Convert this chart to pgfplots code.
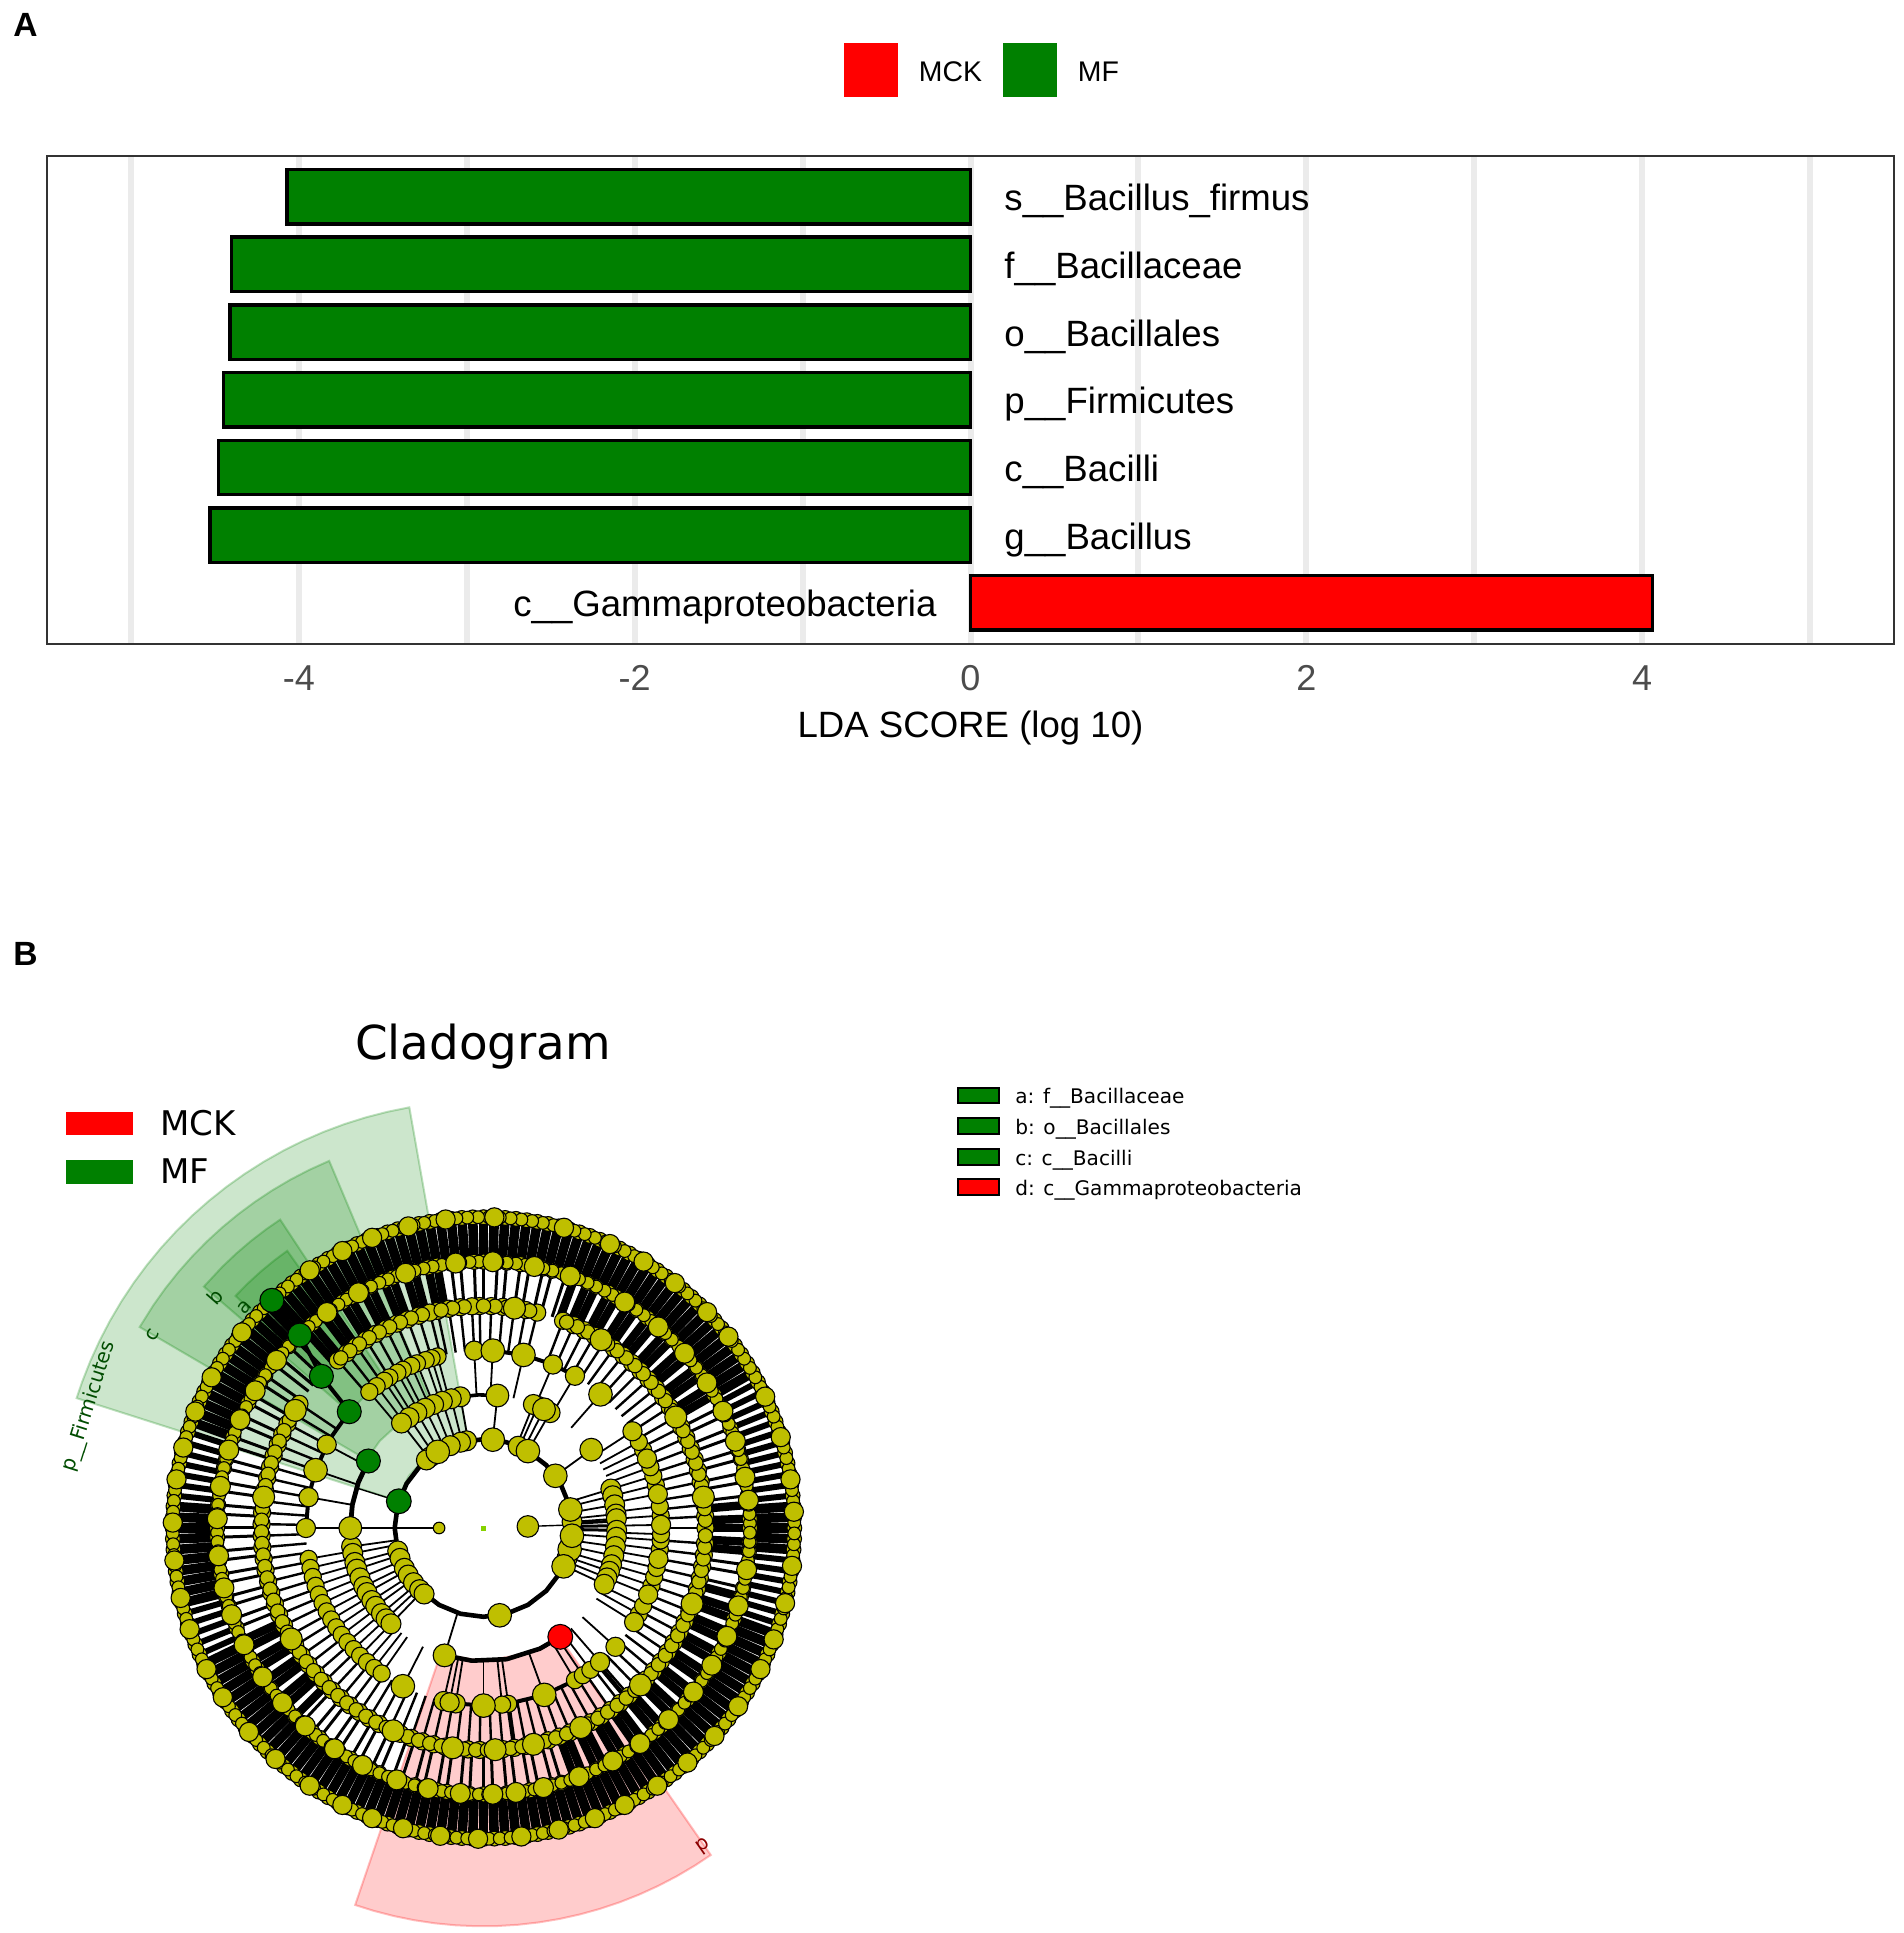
\documentclass[border=0pt]{standalone}
\usepackage{pgfplots}
\usepackage{pgfplotstable}
\usepackage{fontspec}
\setmainfont{Liberation Sans}
\newfontfamily\dv{DejaVu Sans}
\pgfplotsset{compat=1.18}
\definecolor{yel}{rgb}{.75,.75,0}
\definecolor{dgreen}{rgb}{0,.5,0}
\newcommand\T[2]{\pgfplotstableread[row sep=\\]{a\\#1\\}#2}
% node angles (degrees) per ring of the cladogram
\T{180\\2}\Lone
\T{36\\84\\280.5\\60\\121\\-14\\-25.6\\-5\\12}\LtwoA
\T{67\\101\\105\\112\\127\\130\\4\\-9\\195\\200\\207\\212\\218\\224\\228\\-20}\LtwoB
\T{36\\84\\253\\63\\180}\LthreeA
\T{100\\104\\108\\112\\116\\120\\124\\128\\60\\66\\68\\17\\14\\10\\6\\4\\-1\\-4\\-8\\-12\\-16\\-19\\-22\\-25\\188\\191\\195\\198\\202\\206\\209\\213\\216\\220\\223\\226}\LthreeB
\T{87\\77\\161\\243\\270\\290\\48.8}\LfourA
\T{93\\67\\59\\152\\180\\170\\257\\261\\259\\311\\318\\328\\338\\350\\1\\11\\23\\33}\LfourB
\T{105\\107\\109\\112\\114\\117\\119\\122\\124\\127\\130\\190\\193\\196\\199\\202\\205\\208\\211\\214\\217\\220\\223\\226\\229\\232\\235\\278\\276\\301\\304\\307\\331\\334\\341\\344\\347\\353\\356\\358\\4\\7\\14\\17\\20\\26\\29}\LfourC
\T{0\\3\\6\\9\\12\\15\\18\\21\\24\\27\\30\\33\\36\\39\\42\\45\\48\\51\\54\\57\\60\\63\\66\\69\\76\\79\\82\\85\\88\\91\\93\\96\\99\\102\\104\\107\\110\\113\\116\\119\\122\\125\\128\\131\\146\\149\\152\\155\\158\\161\\164\\167\\170\\173\\176\\179\\182\\185\\188\\191\\194\\197\\200\\203\\206\\209\\212\\215\\218\\221\\224\\227\\230\\233\\236\\239\\242\\245\\248\\251\\254\\257\\260\\263\\266\\269\\272\\275\\278\\281\\284\\287\\290\\293\\296\\299\\302\\305\\308\\311\\314\\317\\320\\323\\326\\329\\332\\335\\338\\341\\344\\347\\350\\353\\356}\Lfive
\T{2\\5\\8\\11\\14\\17\\20\\23\\26\\29\\32\\35\\38\\41\\44\\47\\50\\53\\56\\59\\62\\65\\68\\78\\81\\84\\87\\90\\95\\98\\101\\106\\109\\112\\115\\118\\121\\124\\127\\130\\148\\151\\154\\157\\160\\163\\166\\169\\172\\175\\178\\181\\184\\187\\190\\193\\196\\199\\202\\205\\208\\211\\214\\217\\220\\223\\226\\229\\232\\235\\238\\241\\244\\247\\250\\253\\256\\259\\262\\265\\268\\271\\274\\277\\280\\283\\286\\289\\292\\295\\298\\301\\304\\307\\310\\313\\316\\319\\322\\325\\328\\331\\334\\337\\340\\343\\346\\349\\352\\355\\358}\LfiveO
\T{82\\148\\172\\210\\246\\262\\273\\283\\296\\315\\340\\8\\30\\58}\LfiveB
\T{30\\32\\35\\37\\40\\42\\45\\47\\50\\52\\55\\57\\60\\62\\65\\67\\70\\100\\102\\105\\107\\110\\112\\115\\117\\120\\122\\125\\127\\130\\132\\205\\207\\210\\212\\215\\217\\220\\222\\225\\290\\292\\295\\297\\300\\302\\305\\307\\310\\312\\315\\317\\320\\322\\325\\327\\330\\332\\335\\337\\340\\342\\345\\355\\357\\0\\2\\5}\LsixD
\T{7\\10\\12\\15\\17\\20\\22\\25\\27\\72\\75\\77\\80\\82\\85\\87\\90\\92\\95\\97\\135\\137\\140\\142\\145\\147\\150\\152\\155\\157\\160\\162\\165\\167\\170\\172\\175\\177\\180\\182\\185\\187\\190\\192\\195\\197\\200\\202\\227\\230\\232\\235\\237\\240\\242\\245\\247\\250\\252\\255\\257\\260\\262\\265\\267\\270\\272\\275\\277\\280\\282\\285\\287\\347\\350\\352}\LsixS
\T{11\\26\\41\\58\\79\\96\\118\\149\\163\\178\\193\\206\\221\\243\\258\\272\\283\\299\\314\\329\\343\\6\\19\\33\\49\\71\\88\\107\\126\\141\\156\\171\\186\\199\\214\\228\\236\\251\\265\\277\\291\\306\\322\\336\\351}\LsixB
\T{30\\32\\34\\36\\38\\40\\42\\44\\46\\48\\50\\52\\54\\56\\58\\60\\62\\64\\66\\68\\70\\72\\74\\76\\78\\80\\82\\84\\86\\88\\90\\92\\94\\96\\98\\100\\102\\104\\106\\108\\110\\112\\114\\116\\118\\120\\122\\124\\126\\128\\130\\132\\134\\136\\138\\140\\142\\144\\146\\148\\150\\152\\154\\156\\158\\160\\176\\178\\180\\182\\184\\186\\188\\190\\192\\194\\206\\208\\210\\212\\214\\216\\218\\220\\222\\224\\226\\228\\230\\232\\234\\236\\238\\240\\242\\244\\246\\248\\250\\252\\254\\256\\258\\260\\262\\264\\266\\268\\270\\272\\274\\276\\278\\280\\282\\284\\286\\288\\290\\292\\294\\296\\298\\300\\302\\304\\306\\308\\310\\312\\314\\316\\318\\320\\322\\324\\326\\328\\330\\332\\334\\336\\338\\340\\356\\358\\0\\2\\4}\LsevenD
\T{162\\164\\166\\168\\170\\172\\174\\196\\198\\200\\202\\204\\342\\344\\346\\348\\350\\352\\354\\6\\8\\10\\12\\14\\16\\18\\20\\22\\24\\26\\28}\LsevenS
\T{3\\17\\38\\52\\66\\88\\97\\111\\124\\141\\158\\171\\186\\199\\213\\228\\236\\249\\262\\277\\291\\304\\318\\333\\346\\9\\25\\44\\59\\75\\104\\117\\151\\165\\179\\193\\207\\221\\243\\255\\269\\284\\297\\311\\325\\339\\353}\LsevenB
\T{1\\3\\5\\7\\9\\11\\13\\15\\17\\19\\21\\23\\25\\27\\29\\31\\33\\35\\37\\39\\41\\43\\45\\47\\49\\51\\53\\55\\57\\59\\61\\63\\65\\67\\69\\71\\73\\75\\77\\79\\81\\83\\85\\87\\89\\91\\93\\95\\97\\99\\101\\103\\105\\107\\109\\111\\113\\115\\117\\119\\121\\123\\125\\127\\129\\131\\133\\135\\137\\139\\141\\143\\145\\147\\149\\151\\153\\155\\157\\159\\161\\163\\165\\167\\169\\171\\173\\175\\177\\179\\181\\183\\185\\187\\189\\191\\193\\195\\197\\199\\201\\203\\205\\207\\209\\211\\213\\215\\217\\219\\221\\223\\225\\227\\229\\231\\233\\235\\237\\239\\241\\243\\245\\247\\249\\251\\253\\255\\257\\259\\261\\263\\265\\267\\269\\271\\273\\275\\277\\279\\281\\283\\285\\287\\289\\291\\293\\295\\297\\299\\301\\303\\305\\307\\309\\311\\313\\315\\317\\319\\321\\323\\325\\327\\329\\331\\333\\335\\337\\339\\341\\343\\345\\347\\349\\351\\353\\355\\357\\359}\Lodd
% spokes between two rings, arcs on one ring, dots on one ring
\newcommand\spk[4]{\addplot[forget plot,black,line width=#3,quiver={u={(#2-#1)*cos(\thisrow{a})},v={(#2-#1)*sin(\thisrow{a})}}] table[row sep=\\,x index=0,y index=0,x expr={#1*cos(\thisrow{a})},y expr={#1*sin(\thisrow{a})}] {#4};}
\newcommand\arcp[3]{\addplot[forget plot,black,line width=#2,no marks] table[row sep=\\,x index=0,y index=0,x expr={#1*cos(\thisrow{a})},y expr={#1*sin(\thisrow{a})}] {a\\#3\\};}
\newcommand\nd[4][yel]{\addplot[forget plot,only marks,mark=*,mark size=#3,mark options={fill=#1,draw=black,line width=.55pt}] table[row sep=\\,x index=0,y index=0,x expr={#2*cos(\thisrow{a})},y expr={#2*sin(\thisrow{a})}] {#4};}
\begin{document}
\begin{tikzpicture}
\begin{scope}[x=.5pt,y=-.5pt,yshift=966.5pt]
\path[use as bounding box] (0,0) rectangle (1904,1933);
\end{scope}
% ---------- panel A
\begin{axis}[at={(23.5pt,644.7pt)},anchor=south west,scale only axis,width=923.5pt,height=243.8pt,
  xmin=-5.5,xmax=5.5,ymin=-.6,ymax=6.6,ytick=\empty,
  xtick={-4,-2,0,2,4},xticklabels={-4,-2,0,2,4},minor xtick={-5,-3,-1,1,3,5},
  xmajorgrids,xminorgrids,
  grid style={draw=black!8,line width=3pt},minor grid style={draw=black!8,line width=3pt},
  major tick length=0pt,minor tick length=0pt,
  axis line style={draw=black!80,line width=1pt},
  xticklabel style={font=\fontsize{18}{20}\selectfont,text=black!70,anchor=base,yshift=-23.4pt},
  xlabel={LDA SCORE (log 10)},
  xlabel style={font=\fontsize{18.3}{20}\selectfont,at={(axis description cs:.5,0)},anchor=base,yshift=-46.9pt},
  clip=false]
\addplot[xbar,bar shift=0pt,bar width=27.2pt,fill=dgreen,draw=black,line width=1.7pt] coordinates {(-4.07,6) (-4.40,5) (-4.41,4) (-4.45,3) (-4.48,2) (-4.53,1)};
\addplot[xbar,bar shift=0pt,bar width=27.2pt,fill=red,draw=black,line width=1.7pt] coordinates {(4.06,0)};
\tikzset{lab/.style={font=\fontsize{18.3}{20}\selectfont,anchor=base west,inner sep=0pt,yshift=-7pt}}
\node[lab] at (axis cs:.2,6) {s\_\_Bacillus\_firmus};
\node[lab] at (axis cs:.2,5) {f\_\_Bacillaceae};
\node[lab] at (axis cs:.2,4) {o\_\_Bacillales};
\node[lab] at (axis cs:.2,3) {p\_\_Firmicutes};
\node[lab] at (axis cs:.2,2) {c\_\_Bacilli};
\node[lab] at (axis cs:.2,1) {g\_\_Bacillus};
\node[lab,anchor=base east] at (axis cs:-.2,0) {c\_\_Gammaproteobacteria};
\end{axis}
% ---------- panel B
\begin{axis}[at={(19.75pt,2.7pt)},anchor=south west,x=22.2pt,y=22.2pt,hide axis,clip=false,
  xmin=-10,xmax=10,ymin=-9,ymax=10]
\addplot[data cs=polar,forget plot,no marks,fill=dgreen,fill opacity=.2,draw=dgreen,draw opacity=.25,line width=1pt] coordinates {(100,9.62) (103,9.62) (106,9.62) (109,9.62) (112,9.62) (115,9.62) (118,9.62) (121,9.62) (124,9.62) (127,9.62) (130,9.62) (133,9.62) (136,9.62) (139,9.62) (142,9.62) (145,9.62) (148,9.62) (151,9.62) (154,9.62) (157,9.62) (160,9.62) (162.3,9.62) (162.3,2.05) (145,2.05) (130,2.05) (115,2.05) (100,2.05)} -- cycle;
\addplot[data cs=polar,forget plot,no marks,fill=dgreen,fill opacity=.2,draw=dgreen,draw opacity=.25,line width=1pt] coordinates {(112.8,8.97) (116,8.97) (119,8.97) (122,8.97) (125,8.97) (128,8.97) (131,8.97) (134,8.97) (137,8.97) (140,8.97) (143,8.97) (146,8.97) (149.7,8.97) (149.7,3.05) (140,3.05) (125,3.05) (112.8,3.05)} -- cycle;
\addplot[data cs=polar,forget plot,no marks,fill=dgreen,fill opacity=.2,draw=dgreen,draw opacity=.25,line width=1pt] coordinates {(123.4,8.32) (126,8.32) (129,8.32) (132,8.32) (135,8.32) (139.2,8.32) (139.2,4) (131,4) (123.4,4)} -- cycle;
\addplot[data cs=polar,forget plot,no marks,fill=dgreen,fill opacity=.2,draw=dgreen,draw opacity=.25,line width=1pt] coordinates {(125.3,7.65) (128,7.65) (131,7.65) (134,7.65) (136.9,7.65) (136.9,5) (131,5) (125.3,5)} -- cycle;
\addplot[data cs=polar,forget plot,no marks,fill=red,fill opacity=.2,draw=red,draw opacity=.25,line width=1pt] coordinates {(251.2,8.97) (254,8.97) (257,8.97) (260,8.97) (263,8.97) (266,8.97) (269,8.97) (272,8.97) (275,8.97) (278,8.97) (281,8.97) (284,8.97) (287,8.97) (290,8.97) (293,8.97) (296,8.97) (299,8.97) (302,8.97) (304.8,8.97) (304.8,3) (290,3) (270,3) (251.2,3)} -- cycle;
% spokes
\spk{1}{2}{.7pt}{\Lone}
\spk{2}{3}{.9pt}{\LthreeA}
\spk{2}{3}{.9pt}{\LthreeB}
\spk{2}{3}{.7pt}{a\\162.5\\}
\spk{2}{3}{1.5pt}{a\\-1\\1\\3\\}
\spk{3}{4}{.9pt}{\LfourA}
\spk{3}{4}{.9pt}{\LfourB}
\spk{3}{4}{.9pt}{\LfourC}
\spk{4}{5}{1.2pt}{\Lfive}
\spk{4}{5}{2.2pt}{a\\278\\310\\}
\spk{5}{6}{4.2pt}{\LsixD}
\spk{5}{6}{1.5pt}{\LsixS}
\spk{6}{7}{4.8pt}{\LsevenD}
\spk{6}{7}{3pt}{\LsevenS}
% arcs
\arcp{2}{2.3pt}{0\\15\\30\\45\\60\\75\\90\\105\\120\\135\\150\\165\\180\\195\\210\\225\\240\\255\\270\\285\\300\\315\\330\\345\\360}
\arcp{3}{2.4pt}{149.8\\160\\170\\180\\190}
\arcp{3}{2.3pt}{253\\265\\280\\295\\305}
\arcp{3}{1.8pt}{84\\92\\100}
\arcp{4}{2pt}{139\\150\\161\\170\\180}
\arcp{4}{2pt}{261\\270}
\arcp{4}{2pt}{278\\290\\301}
\arcp{4}{2pt}{59\\67\\77\\87\\93}
\addplot[data cs=polar,forget plot,black,line width=2pt,no marks] coordinates {(139,4) (136.9,5) (133.6,6) (132.9,7)};
% dots
\addplot[forget plot,only marks,mark=square*,mark size=1pt,mark options={fill=yel!70!green,draw=yel!70!green}] coordinates {(0,0)};
\nd{7}{3.7pt}{\LsevenD}
\nd{7}{3.7pt}{\LsevenS}
\nd{7}{3.2pt}{\Lodd}
\nd{7}{4.8pt}{\LsevenB}
\nd{6}{3.8pt}{\LsixD}
\nd{6}{3.8pt}{\LsixS}
\nd{6}{3.2pt}{\Lodd}
\nd{6}{5pt}{\LsixB}
\nd{5}{4.3pt}{\Lfive}
\nd{5}{3.6pt}{\LfiveO}
\nd{5}{5.5pt}{\LfiveB}
\nd{4}{4.3pt}{\LfourC}
\nd{4}{4.8pt}{\LfourB}
\nd{4}{5.9pt}{\LfourA}
\nd{3}{5pt}{\LthreeB}
\nd{3}{5.7pt}{\LthreeA}
\nd{2}{5pt}{\LtwoB}
\nd{2}{5.9pt}{\LtwoA}
\nd{1}{2.9pt}{a\\180\\}
\nd{1}{5.4pt}{a\\2\\}
\nd[dgreen]{2}{6.2pt}{a\\162.5\\}
\nd[dgreen]{3}{6pt}{a\\149.8\\}
\nd[dgreen]{4}{6pt}{a\\139.1\\}
\nd[dgreen]{5}{6pt}{a\\136.9\\}
\nd[dgreen]{6}{6pt}{a\\133.6\\}
\nd[dgreen]{7}{6pt}{a\\132.9\\}
\nd[red]{3}{6.2pt}{a\\305.2\\}
\end{axis}
% ---------- texts and keys
\begin{scope}[x=.5pt,y=-.5pt,yshift=966.5pt]
\node[anchor=base west,inner sep=0pt] at (13,37) {\fontsize{16.8}{18}\selectfont\bfseries A};
\node[anchor=base west,inner sep=0pt] at (13,965.5) {\fontsize{16.8}{18}\selectfont\bfseries B};
\fill[red] (844,43) rectangle (898,97);
\fill[dgreen] (1002.5,43) rectangle (1056.5,97);
\node[anchor=base west,inner sep=0pt] at (918.5,82) {\fontsize{14.2}{16}\selectfont MCK};
\node[anchor=base west,inner sep=0pt] at (1077.5,82) {\fontsize{14.2}{16}\selectfont MF};
\node[anchor=base,inner sep=0pt] at (483,1060) {\dv\fontsize{23.4}{26}\selectfont Cladogram};
\fill[red] (66,1112) rectangle (133,1135);
\fill[dgreen] (66,1160) rectangle (133,1184);
\node[anchor=base west,inner sep=0pt] at (160,1136) {\dv\fontsize{17}{19}\selectfont MCK};
\node[anchor=base west,inner sep=0pt] at (160,1184) {\dv\fontsize{17}{19}\selectfont MF};
\foreach \ya/\yb/\c/\t in {1088/1103/dgreen/a: f\_\_Bacillaceae,1118/1134/dgreen/b: o\_\_Bacillales,1149/1165/dgreen/c: c\_\_Bacilli,1179/1195/red/d: c\_\_Gammaproteobacteria}{
  \filldraw[fill=\c,draw=black,line width=1.2pt] (958,\ya) rectangle (999,\yb);
  \node[anchor=base west,inner sep=0pt] at (1015,\yb+1) {\dv\fontsize{10.05}{12}\selectfont \t};
}
\tikzset{sl/.style={text=green!30!black,inner sep=0pt}}
\node[sl,rotate=72.5] at (89.3,1406.7) {\dv\fontsize{10}{12}\selectfont p\_\_Firmicutes};
\node[sl,rotate=59.7] at (153,1335) {\dv\fontsize{10}{12}\selectfont c};
\node[sl,rotate=49] at (215,1297) {\dv\fontsize{10}{12}\selectfont b};
\node[sl,rotate=47] at (245,1307) {\dv\fontsize{10}{12}\selectfont a};
\node[inner sep=0pt,text=red!55!black,rotate=215] at (704,1846.7) {\dv\fontsize{10}{12}\selectfont d};
\end{scope}
\end{tikzpicture}
\end{document}
